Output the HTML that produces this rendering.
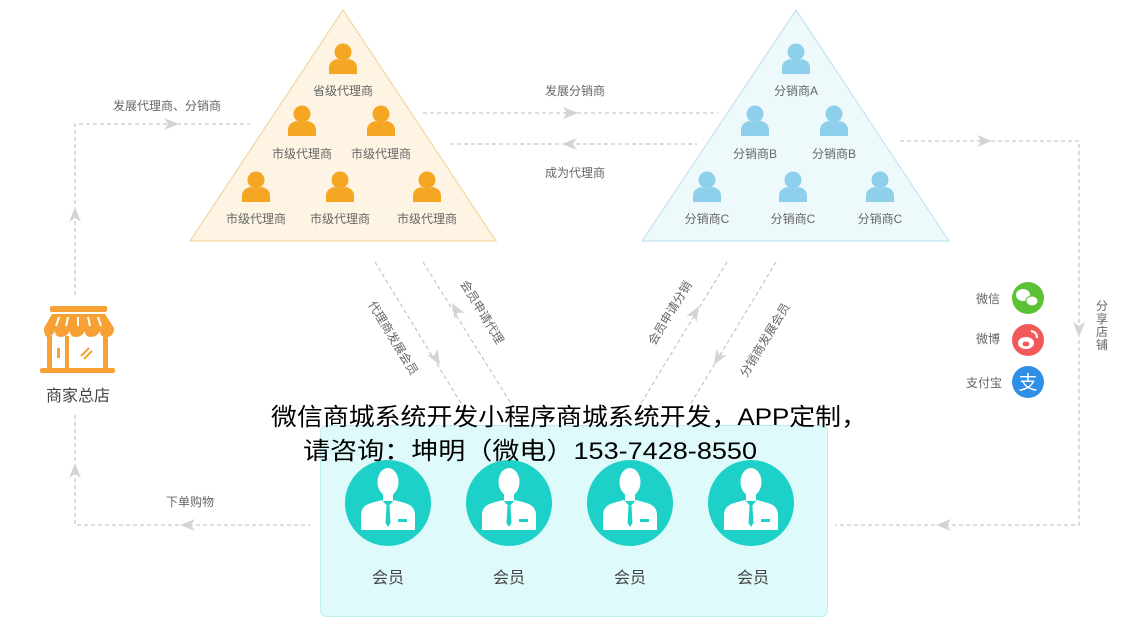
<!DOCTYPE html>
<html><head><meta charset="utf-8"><style>
html,body{margin:0;padding:0;background:#fff;}
svg{display:block;}
text{font-family:"Liberation Sans","Noto Sans CJK SC",sans-serif;}
</style></head><body>
<svg width="1133" height="618" viewBox="0 0 1133 618" xmlns="http://www.w3.org/2000/svg">
<defs>
<g id="p"><circle cx="0" cy="-8" r="8.5"/><path d="M-14,14 L-14,8 Q-14,1 -6,-1 Q0,2 6,-1 Q14,1 14,8 L14,14 Z"/></g>
<g id="m"><circle cx="0" cy="0" r="43" fill="#1dd1c8"/>
<ellipse cx="0" cy="-21" rx="10.5" ry="14" fill="#fff"/>
<rect x="-5" y="-10" width="10" height="8" fill="#fff"/>
<path fill="#fff" d="M-27,27 L-27,12 Q-27,3 -17,0 L-6,-3 L0,4 L6,-3 L17,0 Q27,3 27,12 L27,27 Z"/>
<path fill="#1dd1c8" d="M-1.5,3 L1.5,3 L2.5,20 L0,24 L-2.5,20 Z"/>
<rect x="10" y="16" width="9" height="3" fill="#1dd1c8"/>
</g>
</defs>

<polygon points="343,10 190,241 496,241" fill="#fdf4e4" stroke="#f3d6a0" stroke-width="1.2"/>
<polygon points="796,10 642,241 949,241" fill="#eef9fc" stroke="#c2e5ef" stroke-width="1.2"/>

<g fill="#f5a623">
<use href="#p" x="343" y="60"/>
<use href="#p" x="302" y="122"/><use href="#p" x="381" y="122"/>
<use href="#p" x="256" y="188"/><use href="#p" x="340" y="188"/><use href="#p" x="427" y="188"/>
</g>
<g fill="#8ecfec">
<use href="#p" x="796" y="60"/>
<use href="#p" x="755" y="122"/><use href="#p" x="834" y="122"/>
<use href="#p" x="707" y="188"/><use href="#p" x="793" y="188"/><use href="#p" x="880" y="188"/>
</g>
<g font-size="12" fill="#666" text-anchor="middle">
<text x="343" y="95">省级代理商</text>
<text x="302" y="158">市级代理商</text><text x="381" y="158">市级代理商</text>
<text x="256" y="223">市级代理商</text><text x="340" y="223">市级代理商</text><text x="427" y="223">市级代理商</text>
<text x="796" y="95">分销商A</text>
<text x="755" y="158">分销商B</text><text x="834" y="158">分销商B</text>
<text x="707" y="223">分销商C</text><text x="793" y="223">分销商C</text><text x="880" y="223">分销商C</text>
</g>

<g stroke="#bbb" stroke-width="1" stroke-dasharray="4,3" fill="none">
<path d="M75,295 L75,124 L250,124"/>
<path d="M75,415 L75,525 L310,525"/>
<path d="M423,113 L718,113"/>
<path d="M450,144 L697,144"/>
<path d="M900,141 L1079,141 L1079,525 L835,525"/>
<path d="M375,262 L465,410"/>
<path d="M423,262 L515,410"/>
<path d="M727,262 L640,405"/>
<path d="M776,262 L690,405"/>
</g>
<g fill="#d4d4d4">
<polygon points="179,124 164,118 168,124 164,130"/>
<polygon points="75,207 69,222 75,218 81,222"/>
<polygon points="75,463 69,478 75,474 81,478"/>
<polygon points="180,525 195,519 191,525 195,531"/>
<polygon points="578,113 563,107 567,113 563,119"/>
<polygon points="562,144 577,138 573,144 577,150"/>
<polygon points="992,141 977,135 981,141 977,147"/>
<polygon points="1079,337 1073,322 1079,326 1085,322"/>
<polygon points="936,525 951,519 947,525 951,531"/>
<g transform="translate(436,358) rotate(58.7)"><polygon points="8,0 -7,-6 -3,0 -7,6"/></g>
<g transform="translate(456,310) rotate(238.7)"><polygon points="8,0 -7,-6 -3,0 -7,6"/></g>
<g transform="translate(695,313) rotate(-58.7)"><polygon points="8,0 -7,-6 -3,0 -7,6"/></g>
<g transform="translate(718,358) rotate(121.3)"><polygon points="8,0 -7,-6 -3,0 -7,6"/></g>
</g>

<g font-size="12" fill="#666" text-anchor="middle">
<text x="167" y="110">发展代理商、分销商</text>
<text x="575" y="95">发展分销商</text>
<text x="575" y="177">成为代理商</text>
<text x="190" y="506">下单购物</text>
<text transform="translate(393,338) rotate(58.7)" x="0" y="4">代理商发展会员</text>
<text transform="translate(482,312) rotate(58.7)" x="0" y="4">会员申请代理</text>
<text transform="translate(670,313) rotate(-58.7)" x="0" y="4">会员申请分销</text>
<text transform="translate(765,340) rotate(-58.7)" x="0" y="4">分销商发展会员</text>
<text x="1102" y="310">分</text><text x="1102" y="323">享</text><text x="1102" y="336">店</text><text x="1102" y="349">铺</text>
</g>
<g font-size="12" fill="#666" text-anchor="end">
<text x="1000" y="303">微信</text>
<text x="1000" y="343">微博</text>
<text x="1002" y="387">支付宝</text>
</g>
<circle cx="1028" cy="298" r="16" fill="#5ac234"/>
<ellipse cx="1023" cy="295" rx="7" ry="6" fill="#fff"/><ellipse cx="1032" cy="301" rx="6" ry="5" fill="#fff" stroke="#5ac234"/>
<circle cx="1028" cy="340" r="16" fill="#f25a5a"/>
<ellipse cx="1026" cy="343" rx="8" ry="6" fill="#fff"/><ellipse cx="1026" cy="344" rx="3.5" ry="2.5" fill="#f25a5a"/>
<path d="M1031,331 Q1037,332 1037,338" stroke="#fff" stroke-width="2" fill="none"/>
<circle cx="1028" cy="382" r="16" fill="#2f8ee6"/>
<text x="1028" y="389" font-size="19" fill="#fff" text-anchor="middle">支</text>

<g fill="#f7a034">
<rect x="50" y="306" width="57" height="6" rx="2"/>
<path d="M52,314 L105,314 L114,328 L44,328 Z"/>
<path d="M44,328 L114,328 Q114,337 106,337 Q100,337 100,331 Q97,337 91,337 Q85,337 85,331 Q82,337 76,337 Q70,337 70,331 Q67,337 61,337 Q55,337 55,331 Q52,337 48,337 Q44,337 44,328 Z"/>
<rect x="47" y="336" width="5" height="34"/><rect x="103" y="336" width="5" height="34"/>
<rect x="65" y="336" width="4" height="34"/>
<rect x="40" y="368" width="75" height="5" rx="2"/>
<rect x="57" y="348" width="3" height="10"/>
</g>
<g stroke="#fff" stroke-width="2"><line x1="56" y1="326" x2="59" y2="317"/><line x1="66" y1="326" x2="68" y2="317"/><line x1="78" y1="326" x2="78" y2="317"/><line x1="90" y1="326" x2="88" y2="317"/><line x1="101" y1="326" x2="98" y2="317"/></g>
<g stroke="#f7a034" stroke-width="2"><line x1="81" y1="356" x2="89" y2="348"/><line x1="84" y1="359" x2="92" y2="351"/></g>
<text x="78" y="401" font-size="16" fill="#444" text-anchor="middle">商家总店</text>

<rect x="320.5" y="425.5" width="507" height="191" rx="6" fill="#defafa" stroke="#bdeeee"/>
<use href="#m" x="388" y="503"/><use href="#m" x="509" y="503"/><use href="#m" x="630" y="503"/><use href="#m" x="751" y="503"/>
<g font-size="16" fill="#444" text-anchor="middle">
<text x="388" y="583">会员</text><text x="509" y="583">会员</text><text x="630" y="583">会员</text><text x="753" y="583">会员</text>
</g>

<g font-size="24" fill="#000">
<text x="271" y="425" font-family="'Noto Sans CJK SC',sans-serif" textLength="596" lengthAdjust="spacingAndGlyphs">微信商城系统开发小程序商城系统开发，APP定制，</text>
<text x="303" y="459" font-family="'Noto Sans CJK SC',sans-serif" textLength="454" lengthAdjust="spacingAndGlyphs">请咨询：坤明（微电）153-7428-8550</text>
</g>
</svg>
</body></html>
